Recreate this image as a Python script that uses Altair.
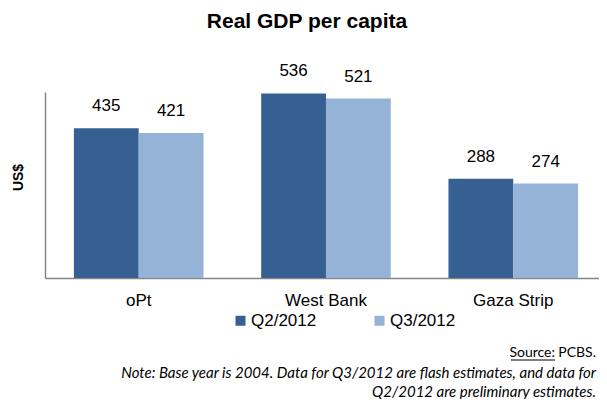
import altair as alt
import pandas as pd

regions = ["oPt", "West Bank", "Gaza Strip"]
series = ["Q2/2012", "Q3/2012"]
q2_values = [435, 536, 288]
q3_values = [421, 521, 274]
colors = ["#376092", "#95B3D7"]

title_text = "Real GDP per capita"
y_title = "US$"
source_label = "Source:"
source_name = "PCBS."
note_line1 = "Note: Base year is 2004. Data for Q3/2012 are flash estimates, and data for"
note_line2 = "Q2/2012  are preliminary estimates."

rows = []
for r, a, b in zip(regions, q2_values, q3_values):
    rows.append({"region": r, "series": series[0], "value": a})
    rows.append({"region": r, "series": series[1], "value": b})
df = pd.DataFrame(rows)

FONT = "Liberation Sans"
NOTE_FONT = "Lato"

base = alt.Chart(df).encode(
    x=alt.X(
        "region:N",
        sort=regions,
        scale=alt.Scale(paddingInner=0.308, paddingOuter=0.133, align=0.58),
        axis=alt.Axis(
            title=None, labelAngle=0, ticks=False, domainColor="#868686",
            domainWidth=1.5, labelFontSize=17, labelFont=FONT, labelColor="black",
            labelPadding=14,
        ),
    ),
    xOffset=alt.XOffset("series:N", sort=series, scale=alt.Scale(paddingInner=0, paddingOuter=0)),
    y=alt.Y(
        "value:Q",
        scale=alt.Scale(domain=[0, 540], nice=False, zero=True),
        axis=alt.Axis(
            title=y_title, labels=False, ticks=False, grid=False,
            domainColor="#868686", domainWidth=1.5,
            titleFontSize=14, titleFont=FONT, titleFontWeight="bold",
            titleAngle=270, titleX=-27, titleY=85, titleAlign="center",
            titleBaseline="middle", titleColor="black",
        ),
    ),
)

bars = base.mark_bar().encode(
    color=alt.Color(
        "series:N",
        sort=series,
        scale=alt.Scale(domain=series, range=colors),
        legend=alt.Legend(
            title=None, orient="none", legendX=187, legendY=220,
            direction="horizontal", symbolType="square", symbolSize=100,
            symbolStrokeWidth=0, labelFontSize=17, labelFont=FONT,
            labelColor="black", columnPadding=54, padding=0, labelOffset=2,
        ),
    )
)

labels = base.mark_text(baseline="bottom", dy=-13, font=FONT, fontSize=17, color="black").encode(
    text="value:Q"
)

def note(text, x, y, align="right", italic=True, size=15):
    return alt.Chart(pd.DataFrame({"t": [text]})).mark_text(
        align=align, baseline="middle", font=NOTE_FONT, fontSize=size,
        fontStyle="italic" if italic else "normal", color="black",
    ).encode(text="t:N", x=alt.value(x), y=alt.value(y))

src1 = note(source_label, 510, 261, italic=False, size=14)
src2 = note(source_name, 551, 261, italic=False, size=14)
underline = alt.Chart(pd.DataFrame({"t": [0]})).mark_rule(color="black", strokeWidth=1).encode(
    x=alt.value(466), x2=alt.value(510), y=alt.value(268)
)
n1 = note(note_line1, 551, 281)
n2 = note(note_line2, 551, 300)

chart = alt.layer(bars, labels, src1, src2, underline, n1, n2).properties(
    width=554,
    height=186,
    title=alt.TitleParams(
        title_text, font=FONT, fontSize=21, fontWeight="bold", anchor="middle",
        frame="group", dx=-15, offset=30, color="black",
    ),
    autosize=alt.AutoSizeParams(type="none"),
    padding={"left": 37, "top": 84, "right": 0, "bottom": 121},
).configure_view(stroke=None)

chart.save("out.html", embed_options={"renderer": "svg", "actions": False})
